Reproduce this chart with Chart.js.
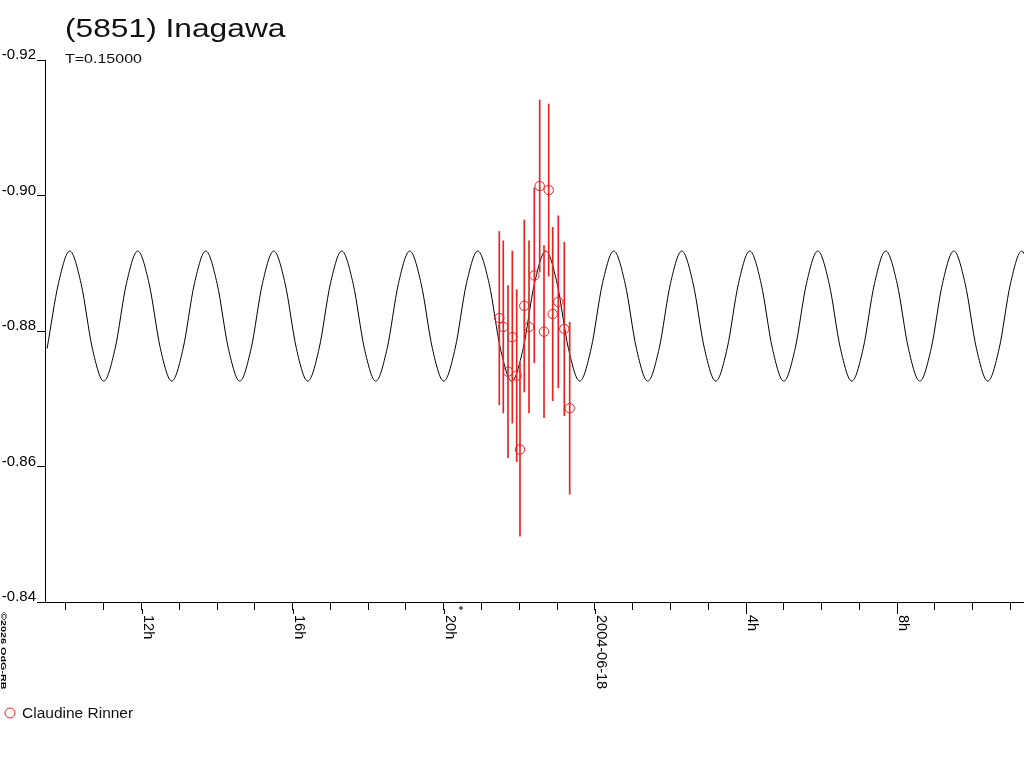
<!DOCTYPE html>
<html>
<head>
<meta charset="utf-8">
<title>(5851) Inagawa</title>
<script src="https://cdn.jsdelivr.net/npm/chart.js@4.4.1/dist/chart.umd.min.js"></script>
<style>
  html, body { margin: 0; padding: 0; background: #fff; }
  canvas { display: block; }
</style>
</head>
<body>
<canvas id="lc" width="1024" height="768"></canvas>
<script>
// hours relative to 2004-06-18 00:00
const xMin = -14.555;
const xMax = 11.358;

// model lightcurve
const curveHours = [
  -14.5, -14.2, -13.9, -13.6, -13.3, -13.0, -12.7, -12.4, -12.1, -11.8, -11.5, -11.2,
  -10.9, -10.6, -10.3, -10.0, -9.7, -9.4, -9.1, -8.8, -8.5, -8.2, -7.9, -7.6,
  -7.3, -7.0, -6.7, -6.4, -6.1, -5.8, -5.5, -5.2, -4.9, -4.6, -4.3, -4.0,
  -3.7, -3.4, -3.1, -2.8, -2.5, -2.2, -1.9, -1.6, -1.3, -1.0, -0.7, -0.4,
  -0.1, 0.2, 0.5, 0.8, 1.1, 1.4, 1.7, 2.0, 2.3, 2.6, 2.9, 3.2,
  3.5, 3.8, 4.1, 4.4, 4.7, 5.0, 5.3, 5.6, 5.9, 6.2, 6.5, 6.8,
  7.1, 7.4, 7.7, 8.0, 8.3, 8.6, 8.9, 9.2, 9.5, 9.8, 10.1, 10.4,
  10.7, 11.0, 11.3, 11.6
];
const curveMags = [
  -0.8774, -0.8870, -0.8918, -0.8870, -0.8774, -0.8726, -0.8774, -0.8870, -0.8918, -0.8870, -0.8774, -0.8726,
  -0.8774, -0.8870, -0.8918, -0.8870, -0.8774, -0.8726, -0.8774, -0.8870, -0.8918, -0.8870, -0.8774, -0.8726,
  -0.8774, -0.8870, -0.8918, -0.8870, -0.8774, -0.8726, -0.8774, -0.8870, -0.8918, -0.8870, -0.8774, -0.8726,
  -0.8774, -0.8870, -0.8918, -0.8870, -0.8774, -0.8726, -0.8774, -0.8870, -0.8918, -0.8870, -0.8774, -0.8726,
  -0.8774, -0.8870, -0.8918, -0.8870, -0.8774, -0.8726, -0.8774, -0.8870, -0.8918, -0.8870, -0.8774, -0.8726,
  -0.8774, -0.8870, -0.8918, -0.8870, -0.8774, -0.8726, -0.8774, -0.8870, -0.8918, -0.8870, -0.8774, -0.8726,
  -0.8774, -0.8870, -0.8918, -0.8870, -0.8774, -0.8726, -0.8774, -0.8870, -0.8918, -0.8870, -0.8774, -0.8726,
  -0.8774, -0.8870, -0.8918, -0.8870
];

// Claudine Rinner observations
const obsHours = [-2.530, -2.425, -2.300, -2.186, -2.070, -1.983, -1.869, -1.744,
                  -1.604, -1.461, -1.347, -1.223, -1.117, -0.969, -0.810, -0.667];
const obsMags  = [-0.8819, -0.8806, -0.8740, -0.8791, -0.8734, -0.8625, -0.8837, -0.8806,
                  -0.8882, -0.9014, -0.8799, -0.9008, -0.8825, -0.8843, -0.8803, -0.8686];
const obsErrs  = [0.0128, 0.0127, 0.0127, 0.0127, 0.0127, 0.0128, 0.0127, 0.0127,
                  0.0129, 0.0127, 0.0127, 0.0127, 0.0128, 0.0127, 0.0128, 0.0127];

const labelHours = [-12, -8, -4, 0, 4, 8];
const labelTexts = ['12h', '16h', '20h', '2004-06-18', '4h', '8h'];
const markHour = -3.544;

const titleText = '(5851) Inagawa';
const subText = 'T=0.15000';
const observer = 'Claudine Rinner';
const credit = '\u00A92026 OdG-RB';

const FONT = '"Liberation Sans", Arial, sans-serif';
const RED = '#f02020';

function stretchText(ctx, text, x, y, size, stretch, angle, weight) {
  ctx.save();
  ctx.translate(x, y);
  if (angle) ctx.rotate(angle);
  ctx.scale(stretch, 1);
  ctx.font = (weight || 'normal') + ' ' + size + 'px ' + FONT;
  ctx.fillText(text, 0, 0);
  ctx.restore();
}

const decorations = {
  id: 'decorations',
  afterDraw(chart) {
    const ctx = chart.ctx;
    const xs = chart.scales.x;
    const bottom = chart.chartArea.bottom;
    ctx.save();
    ctx.fillStyle = '#111';
    ctx.textBaseline = 'alphabetic';
    ctx.textAlign = 'left';
    stretchText(ctx, titleText, 65, 37, 26, 1.22);
    stretchText(ctx, subText, 65, 63, 12.5, 1.28);

    // longer ticks + rotated labels
    ctx.strokeStyle = '#000';
    ctx.lineWidth = 1;
    labelHours.forEach((h, i) => {
      const px = Math.round(xs.getPixelForValue(h)) + 0.5;
      ctx.beginPath();
      ctx.moveTo(px, bottom + 7);
      ctx.lineTo(px, bottom + 12);
      ctx.stroke();
      ctx.fillStyle = '#000';
      stretchText(ctx, labelTexts[i], px + 1, bottom + 13, 14.5, 1, Math.PI / 2);
    });

    // small marker below the axis
    ctx.beginPath();
    ctx.arc(xs.getPixelForValue(markHour), bottom + 6, 1.3, 0, Math.PI * 2);
    ctx.stroke();

    // credit
    ctx.fillStyle = '#000';
    stretchText(ctx, credit, 1, 612, 8, 1.35, Math.PI / 2, 'bold');

    // legend
    ctx.strokeStyle = RED;
    ctx.beginPath();
    ctx.arc(10, 713, 5, 0, Math.PI * 2);
    ctx.stroke();
    ctx.fillStyle = '#111';
    stretchText(ctx, observer, 22, 718, 15.5, 1);
    ctx.restore();
  }
};

const curveData = curveHours.map((h, i) => ({ x: h, y: curveMags[i] }));
const obsData = obsHours.map((h, i) => ({ x: h, y: obsMags[i] }));
const errData = obsHours.map((h, i) => ({ x: h, y: [obsMags[i] - obsErrs[i], obsMags[i] + obsErrs[i]] }));

new Chart(document.getElementById('lc'), {
  type: 'scatter',
  data: {
    datasets: [
      {
        type: 'scatter',
        label: observer,
        data: obsData,
        pointStyle: 'circle',
        pointRadius: 4.7,
        borderColor: RED,
        backgroundColor: 'rgba(0,0,0,0)',
        borderWidth: 1
      },
      {
        type: 'bar',
        label: 'errors',
        data: errData,
        backgroundColor: RED,
        barThickness: 1,
        grouped: false,
        borderWidth: 0
      },
      {
        type: 'line',
        label: 'model',
        data: curveData,
        borderColor: '#000',
        borderWidth: 1,
        pointRadius: 0,
        fill: false,
        cubicInterpolationMode: 'monotone'
      }
    ]
  },
  options: {
    responsive: false,
    devicePixelRatio: 1,
    animation: false,
    layout: { autoPadding: false, padding: { top: 60, left: 0, right: 0, bottom: 0 } },
    plugins: {
      legend: { display: false },
      tooltip: { enabled: false },
      title: { display: false }
    },
    scales: {
      x: {
        type: 'linear',
        position: 'bottom',
        min: xMin,
        max: xMax,
        offset: false,
        ticks: {
          stepSize: 1,
          includeBounds: false,
          autoSkip: false,
          maxRotation: 0,
          padding: 0,
          font: { size: 1 },
          callback: () => ''
        },
        grid: { offset: false, drawOnChartArea: false, drawTicks: true, tickLength: 8, color: '#000' },
        border: { display: true, color: '#000' },
        afterFit(scale) {
          scale.height = 166;
          scale.paddingLeft = 0;
          scale.paddingRight = 0;
        }
      },
      y: {
        type: 'linear',
        reverse: true,
        min: -0.92,
        max: -0.84,
        ticks: {
          stepSize: 0.02,
          color: '#000',
          padding: 1,
          labelOffset: -5,
          font: { family: FONT, size: 15 },
          callback: v => v.toFixed(2)
        },
        grid: { drawOnChartArea: false, drawTicks: true, tickLength: 8, color: '#000' },
        border: { display: true, color: '#000' },
        afterFit(scale) { scale.width = 45; }
      }
    }
  },
  plugins: [decorations]
});
</script>
</body>
</html>
